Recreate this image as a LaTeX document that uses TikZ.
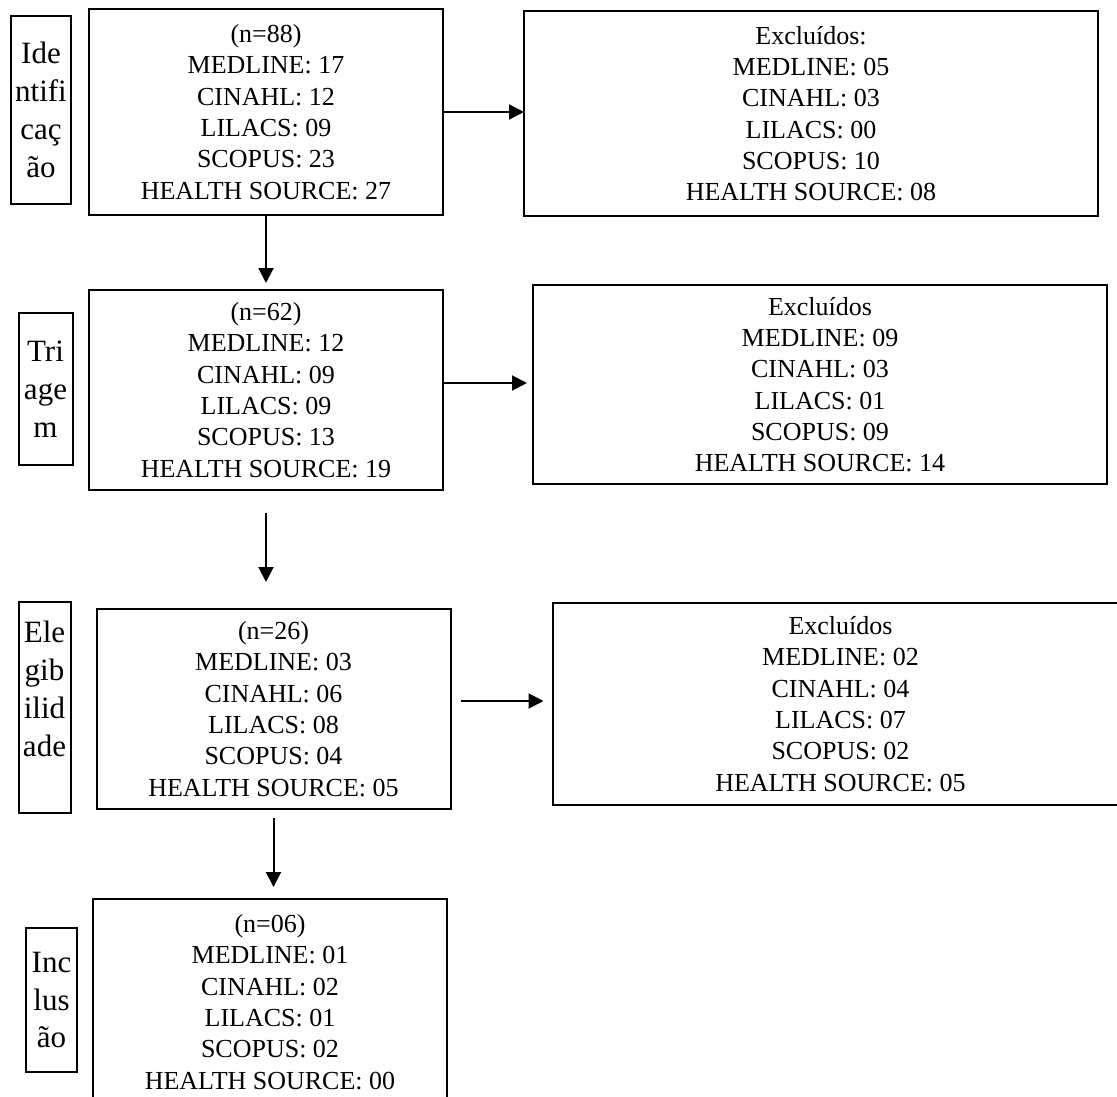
\documentclass[tikz,border=0pt]{standalone}
\usepackage{fontspec}
\setmainfont{Liberation Serif}
\usepackage{tikz}
\usetikzlibrary{positioning,arrows.meta}
\tikzset{>={Triangle[length=15pt,width=15pt]}}

\begin{document}
\begin{tikzpicture}[
mainbox/.style={rectangle, draw=black, line width=2pt, outer sep=0pt, align=center, minimum width=354pt, minimum height=200pt, font=\fontsize{26pt}{31.3pt}\selectfont},
excludedbox/.style={mainbox, minimum width=574pt, minimum height=202pt},
stagebox/.style={rectangle, draw=black, line width=2pt, outer sep=0pt, inner sep=2pt, align=center, minimum width=54pt, font=\fontsize{31pt}{37.8pt}\selectfont},
line width=2pt,
]
\useasboundingbox (0,0) rectangle (1117pt,-1097pt);
\fill[white] (0,0) rectangle (1117pt,-1097pt);
\clip (0,0) rectangle (1117pt,-1097pt);

%Nodes
\node[mainbox, minimum height=206pt](Identificacao) at (266pt,-112pt){(n=88)\\ MEDLINE: 17\\ CINAHL: 12\\ LILACS: 09\\ SCOPUS: 23\\ HEALTH SOURCE: 27};
\node[mainbox](Triagem)[below=75pt of Identificacao]{(n=62)\\ MEDLINE: 12\\ CINAHL: 09\\ LILACS: 09\\ SCOPUS: 13\\ HEALTH SOURCE: 19};
\node[mainbox](Elegibilidade)[below=119pt of Triagem, xshift=7.5pt]{(n=26)\\ MEDLINE: 03\\ CINAHL: 06\\ LILACS: 08\\ SCOPUS: 04\\ HEALTH SOURCE: 05};
\node[mainbox, minimum height=206pt](Inclusao)[below=90pt of Elegibilidade, xshift=-3.5pt]{(n=06)\\ MEDLINE: 01\\ CINAHL: 02\\ LILACS: 01\\ SCOPUS: 02\\ HEALTH SOURCE: 00};

\node[excludedbox, minimum height=205pt](Excluidos 1)[right=81pt of Identificacao, yshift=-1.5pt]{Excluídos:\\ MEDLINE: 05\\ CINAHL: 03\\ LILACS: 00\\ SCOPUS: 10\\ HEALTH SOURCE: 08};
\node[excludedbox, minimum height=199pt](Excluidos 2)[right=90pt of Triagem, yshift=5.5pt]{Excluídos\\ MEDLINE: 09\\ CINAHL: 03\\ LILACS: 01\\ SCOPUS: 09\\ HEALTH SOURCE: 14};
\node[excludedbox, minimum width=576pt](Excluidos 3)[right=102pt of Elegibilidade, yshift=5pt]{Excluídos\\ MEDLINE: 02\\ CINAHL: 04\\ LILACS: 07\\ SCOPUS: 02\\ HEALTH SOURCE: 05};

\node[stagebox, minimum width=60pt, minimum height=188pt](Etapa 1)[left=18pt of Identificacao, yshift=2pt]{Ide\\ ntifi\\ caç\\ ão};
\node[stagebox, minimum height=152pt](Etapa 2)[left=16.5pt of Triagem, yshift=1pt]{Tri\\ age\\ m};
\node[stagebox, minimum width=52pt, minimum height=211pt](Etapa 3)[left=26pt of Elegibilidade, yshift=1.5pt]{Ele\\ gib\\ ilid\\ ade\\ ~};
\node[stagebox, minimum width=51pt, minimum height=144pt](Etapa 4)[left=16pt of Inclusao, yshift=2pt]{Inc\\ lus\\ ão};

\coordinate (Seta 2) at ([yshift=7pt]Triagem.east);
\coordinate (Seta 3) at ([yshift=8pt]Elegibilidade.east);

%Lines
\draw[->] (Identificacao.east) -- (Identificacao.east -| Excluidos 1.west);
\draw[->, shorten >=6pt] (Seta 2) -- (Seta 2 -| Excluidos 2.west);
\draw[->, shorten <=10pt, shorten >=9pt] (Seta 3) -- (Seta 3 -| Excluidos 3.west);

\draw[->, shorten >=7pt] (Identificacao) -- (Triagem);
\draw[->, shorten <=23pt, shorten >=27pt] (Triagem.south) -- (Triagem.south |- Elegibilidade.north);
\draw[->, shorten <=9pt, shorten >=12pt] (Elegibilidade.south) -- (Elegibilidade.south |- Inclusao.north);
\end{tikzpicture}
\end{document}
